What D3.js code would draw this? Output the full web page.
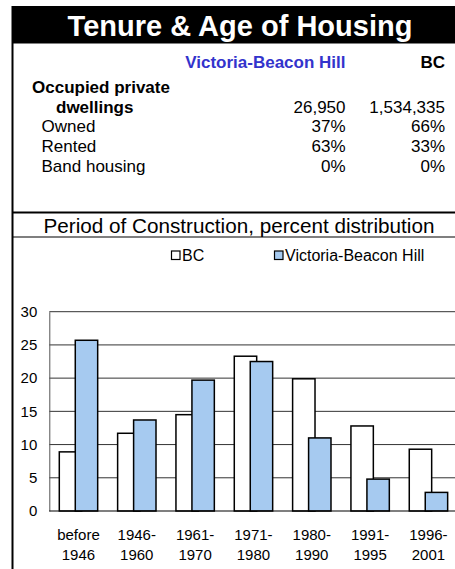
<!DOCTYPE html>
<html>
<head>
<meta charset="utf-8">
<script src="https://cdn.jsdelivr.net/npm/d3@7"></script>
<style>
  html, body { margin: 0; padding: 0; background: #fff; }
  svg { display: block; font-family: "Liberation Sans", Arial, sans-serif; }
</style>
</head>
<body>
<svg id="chart" width="455" height="569"></svg>
<script>
// ---- Data ----
const title = "Tenure & Age of Housing";
const tableColumns = ["Victoria-Beacon Hill", "BC"];
const tableRowLabels = ["Owned", "Rented", "Band housing"];
const dwellingsVBH = "26,950";
const dwellingsBC = "1,534,335";
const tableVBH = ["37%", "63%", "0%"];
const tableBC = ["66%", "33%", "0%"];

const chartTitle = "Period of Construction, percent distribution";
const categories = ["before 1946", "1946-1960", "1961-1970", "1971-1980", "1980-1990", "1991-1995", "1996-2001"];
const categoryLines = [["before", "1946"], ["1946-", "1960"], ["1961-", "1970"], ["1971-", "1980"], ["1980-", "1990"], ["1991-", "1995"], ["1996-", "2001"]];
const seriesNames = ["BC", "Victoria-Beacon Hill"];
const bcValues = [8.9, 11.7, 14.5, 23.3, 19.9, 12.8, 9.3];
const vbhValues = [25.7, 13.7, 19.7, 22.5, 11.0, 4.8, 2.8];
const yTicks = [0, 5, 10, 15, 20, 25, 30];

// ---- Drawing ----
const svg = d3.select("#chart");
const blue = "#A6CAF0";
const fs = 17;

// Title bar
svg.append("rect").attr("x", 12).attr("y", 6).attr("width", 443).attr("height", 37.5).attr("fill", "#000");
svg.append("text").attr("x", 240).attr("y", 35.5).attr("text-anchor", "middle")
  .attr("fill", "#fff").attr("font-weight", "bold").attr("font-size", 29).text(title);

// Left border
svg.append("line").attr("x1", 12.5).attr("x2", 12.5).attr("y1", 6).attr("y2", 569)
  .attr("stroke", "#000").attr("stroke-width", 2);

// Table
const colRight = [345.5, 445];
svg.append("text").attr("x", colRight[0]).attr("y", 68).attr("text-anchor", "end")
  .attr("font-weight", "bold").attr("font-size", fs).attr("fill", "#3333CC").text(tableColumns[0]);
svg.append("text").attr("x", colRight[1]).attr("y", 68).attr("text-anchor", "end")
  .attr("font-weight", "bold").attr("font-size", fs).attr("fill", "#000").text(tableColumns[1]);

svg.append("text").attr("x", 32).attr("y", 93).attr("font-weight", "bold").attr("font-size", fs).text("Occupied private");
svg.append("text").attr("x", 56).attr("y", 112.5).attr("font-weight", "bold").attr("font-size", fs).text("dwellings");
svg.append("text").attr("x", colRight[0]).attr("y", 112.5).attr("text-anchor", "end").attr("font-size", fs).text(dwellingsVBH);
svg.append("text").attr("x", colRight[1]).attr("y", 112.5).attr("text-anchor", "end").attr("font-size", fs).text(dwellingsBC);

const rowY = [132, 152, 172];
tableRowLabels.forEach((lab, i) => {
  svg.append("text").attr("x", 41.5).attr("y", rowY[i]).attr("font-size", fs).text(lab);
  svg.append("text").attr("x", colRight[0]).attr("y", rowY[i]).attr("text-anchor", "end").attr("font-size", fs).text(tableVBH[i]);
  svg.append("text").attr("x", colRight[1]).attr("y", rowY[i]).attr("text-anchor", "end").attr("font-size", fs).text(tableBC[i]);
});

// Separators
svg.append("line").attr("x1", 12).attr("x2", 455).attr("y1", 212.5).attr("y2", 212.5).attr("stroke", "#000").attr("stroke-width", 2);
svg.append("text").attr("x", 239).attr("y", 233).attr("text-anchor", "middle").attr("font-size", 20.7).text(chartTitle);
svg.append("line").attr("x1", 12).attr("x2", 455).attr("y1", 237).attr("y2", 237).attr("stroke", "#000").attr("stroke-width", 1.2);

// Legend
const legend = [{x: 171.5, fill: "#fff", name: seriesNames[0]}, {x: 274.5, fill: blue, name: seriesNames[1]}];
legend.forEach(l => {
  svg.append("rect").attr("x", l.x).attr("y", 251).attr("width", 8.5).attr("height", 8.5)
    .attr("fill", l.fill).attr("stroke", "#000").attr("stroke-width", 1.2);
  svg.append("text").attr("x", l.x + 10.5).attr("y", 261).attr("font-size", 16).text(l.name);
});

// Chart
const x = d3.scaleBand().domain(categories).range([49.3, 457.6]).padding(0);
const y = d3.scaleLinear().domain([0, 30]).range([511, 311.7]);
const bw = x.bandwidth();
const barW = bw * 0.384;
const off = bw * 0.1714;
const shift = bw * 0.274;

// gridlines
svg.append("g").selectAll("line").data(yTicks.filter(t => t > 0)).join("line")
  .attr("x1", 49.3).attr("x2", 457.6).attr("y1", d => y(d)).attr("y2", d => y(d))
  .attr("stroke", "#333").attr("stroke-width", 1);

// y axis
const yAxis = d3.axisLeft(y).tickValues(yTicks).tickSize(0).tickPadding(12);
const gy = svg.append("g").attr("transform", "translate(49.3,0)").call(yAxis);
gy.select(".domain").attr("stroke", "#555").attr("stroke-width", 1);
gy.selectAll("text").attr("font-size", 15).attr("font-family", "'Liberation Sans', Arial, sans-serif").attr("fill", "#000");

// bars
const g = svg.append("g");
g.selectAll("rect.bc").data(categories).join("rect").attr("class", "bc")
  .attr("x", d => x(d) + off).attr("width", barW)
  .attr("y", (d, i) => y(bcValues[i])).attr("height", (d, i) => y(0) - y(bcValues[i]))
  .attr("fill", "#fff").attr("stroke", "#000").attr("stroke-width", 1.5);
g.selectAll("rect.vbh").data(categories).join("rect").attr("class", "vbh")
  .attr("x", d => x(d) + off + shift).attr("width", barW)
  .attr("y", (d, i) => y(vbhValues[i])).attr("height", (d, i) => y(0) - y(vbhValues[i]))
  .attr("fill", blue).attr("stroke", "#000").attr("stroke-width", 1.5);

// x axis baseline
svg.append("line").attr("x1", 49.3).attr("x2", 457.6).attr("y1", y(0)).attr("y2", y(0)).attr("stroke", "#000").attr("stroke-width", 1.2);

// x labels
const xl = svg.append("g").selectAll("text").data(categories).join("text")
  .attr("x", d => x(d) + bw / 2).attr("y", 540).attr("text-anchor", "middle").attr("font-size", 15);
xl.each(function(d, i) {
  const t = d3.select(this);
  categoryLines[i].forEach((ln, j) => {
    t.append("tspan").attr("x", x(d) + bw / 2).attr("dy", j === 0 ? 0 : 19.5).text(ln);
  });
});
</script>
</body>
</html>
